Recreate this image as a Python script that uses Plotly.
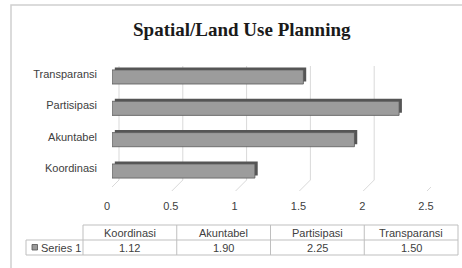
import plotly.graph_objects as go

# ---- data ----
categories = ["Koordinasi", "Akuntabel", "Partisipasi", "Transparansi"]
series_name = "Series 1"
values = [1.12, 1.90, 2.25, 1.50]
tick_vals = [0, 0.5, 1, 1.5, 2, 2.5]
tick_text = ["0", "0.5", "1", "1.5", "2", "2.5"]
title_text = "Spatial/Land Use Planning"

W, H = 462, 268
def px(x):
    return x / W
def py(y):
    return 1 - y / H

TXT = "#404040"
GRID = "#d9d9d9"
FONT = "Liberation Sans"

bar_w = 0.45
depth_dx = 0.022     # 3D depth offset (data units)
depth_dy = 0.08      # 3D depth offset (category units)

fig = go.Figure()
# back/depth face of each bar (gives the 3D top and end cap)
fig.add_trace(go.Bar(
    y=categories, x=values, base=depth_dx, orientation="h",
    width=bar_w, offset=-bar_w / 2 + depth_dy,
    marker=dict(color="#555555", line=dict(width=0)),
    hoverinfo="skip", showlegend=False,
))
# front face
fig.add_trace(go.Bar(
    y=categories, x=values, orientation="h", name=series_name,
    width=bar_w, offset=-bar_w / 2,
    marker=dict(color="#9c9c9c", line=dict(color="#5a5a5a", width=0.8)),
    showlegend=False,
))

shapes = []
# frame
shapes.append(dict(type="rect", xref="paper", yref="paper",
                   x0=px(11), x1=px(480), y0=py(290), y1=py(5),
                   line=dict(color="#d0d0d0", width=1.5), layer="below"))
# 3D gridlines (back wall vertical + floor diagonal)
for v in tick_vals:
    shapes.append(dict(type="line", xref="x", xsizemode="pixel", xanchor=v,
                       x0=7, x1=7, yref="paper", y0=py(66), y1=py(180),
                       line=dict(color=GRID, width=1), layer="below"))
    shapes.append(dict(type="line", xref="x", xsizemode="pixel", xanchor=v,
                       x0=7, x1=-4, yref="paper", y0=py(180), y1=py(191),
                       line=dict(color=GRID, width=1), layer="below"))

# data table
tl, tr = 83, 458
t_top, t_mid, t_bot = 225, 240, 255
leg_l = 26
col_w = (tr - tl) / len(categories)
TL = dict(color="#bfbfbf", width=1)
shapes.append(dict(type="line", xref="paper", yref="paper", x0=px(tl), x1=px(tr), y0=py(t_top), y1=py(t_top), line=TL))
shapes.append(dict(type="line", xref="paper", yref="paper", x0=px(leg_l), x1=px(tr), y0=py(t_mid), y1=py(t_mid), line=TL))
shapes.append(dict(type="line", xref="paper", yref="paper", x0=px(leg_l), x1=px(tr), y0=py(t_bot), y1=py(t_bot), line=TL))
shapes.append(dict(type="line", xref="paper", yref="paper", x0=px(leg_l), x1=px(leg_l), y0=py(t_mid), y1=py(t_bot), line=TL))
for i in range(len(categories) + 1):
    xx = tl + i * col_w
    shapes.append(dict(type="line", xref="paper", yref="paper", x0=px(xx), x1=px(xx), y0=py(t_top), y1=py(t_bot), line=TL))
# legend key square
shapes.append(dict(type="rect", xref="paper", yref="paper", x0=px(32), x1=px(37.5), y0=py(250), y1=py(244.5),
                   fillcolor="#9a9a9a", line=dict(color="#505050", width=0.8)))

annotations = []
annotations.append(dict(text="<b>" + title_text + "</b>", x=px(242.5), y=py(29), xref="paper", yref="paper",
                        showarrow=False, xanchor="center", yanchor="middle",
                        font=dict(family="Liberation Serif", size=19, color="#1a1a1a")))
for i, (c, v) in enumerate(zip(categories, values)):
    cx = tl + (i + 0.5) * col_w
    annotations.append(dict(text=c, x=px(cx), y=py((t_top + t_mid) / 2), xref="paper", yref="paper",
                            showarrow=False, xanchor="center", yanchor="middle",
                            font=dict(family=FONT, size=11, color=TXT)))
    annotations.append(dict(text=f"{v:.2f}", x=px(cx), y=py((t_mid + t_bot) / 2), xref="paper", yref="paper",
                            showarrow=False, xanchor="center", yanchor="middle",
                            font=dict(family=FONT, size=11, color=TXT)))
annotations.append(dict(text=series_name, x=px(38.5), y=py((t_mid + t_bot) / 2), xref="paper", yref="paper",
                        showarrow=False, xanchor="left", yanchor="middle",
                        font=dict(family=FONT, size=11, color=TXT)))

fig.update_layout(
    width=W, height=H, margin=dict(l=0, r=0, t=0, b=0, pad=0, autoexpand=False),
    paper_bgcolor="white", plot_bgcolor="rgba(0,0,0,0)",
    barmode="overlay", showlegend=False,
    shapes=shapes, annotations=annotations,
    font=dict(family=FONT, size=11, color=TXT),
    xaxis=dict(domain=[px(112), px(431)], range=[0, 2.5], showgrid=False, zeroline=False,
               showline=False, tickvals=tick_vals, ticktext=tick_text, ticks="",
               ticklabelshift=-5, ticklabelstandoff=11, automargin=False,
               tickfont=dict(family=FONT, size=11, color=TXT)),
    yaxis=dict(domain=[py(186.7), py(61.3)], type="category", categoryorder="array",
               categoryarray=categories, range=[-0.5, 3.5], showgrid=False, zeroline=False,
               showline=False, ticks="", ticklabelstandoff=14, ticklabelshift=-3, automargin=False,
               tickfont=dict(family=FONT, size=11, color=TXT)),
)

fig.write_html("out.html", config={"displayModeBar": False},
               post_script="document.body.style.margin='0';document.body.style.padding='0';")
